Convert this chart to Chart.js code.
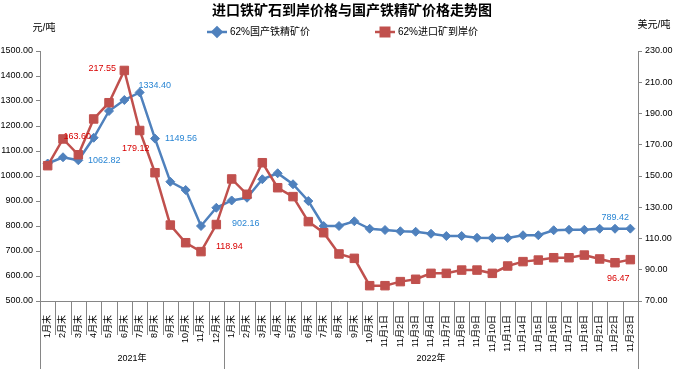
<!DOCTYPE html>
<html>
<head>
<meta charset="utf-8">
<script src="https://cdn.jsdelivr.net/npm/chart.js@4.4.1/dist/chart.umd.min.js"></script>
<style>
  html, body { margin: 0; padding: 0; background: #fff; }
</style>
</head>
<body>
<canvas id="chart" width="676" height="369"></canvas>
<script>
const categories = [
  '1月末', '2月末', '3月末', '4月末', '5月末', '6月末', '7月末', '8月末', '9月末', '10月末', '11月末', '12月末',
  '1月末', '2月末', '3月末', '4月末', '5月末', '6月末', '7月末', '8月末', '9月末', '10月末',
  '11月1日', '11月2日', '11月3日', '11月4日', '11月7日', '11月8日', '11月9日', '11月10日', '11月11日',
  '11月14日', '11月15日', '11月16日', '11月17日', '11月18日', '11月21日', '11月22日', '11月23日'
];
const yearGroups = ['2021年', '2022年'];
const yearSizes = [12, 27];

// 62%国产铁精矿价 (元/吨, 左轴)
const domesticPrice = [
  1050, 1075, 1062.82, 1153, 1260, 1304, 1334.40, 1149.56, 977, 944, 800, 873,
  902.16, 913, 987, 1011, 967, 900, 800, 800, 819, 789,
  784, 779, 777, 769, 760, 760, 753, 752, 752,
  763, 763, 783, 785, 785, 789, 789, 789.42
];
// 62%进口矿到岸价 (美元/吨, 右轴)
const importPrice = [
  156.6, 173.7, 163.60, 186.5, 196.9, 217.55, 179.12, 152.1, 118.6, 107.3, 101.6, 118.94,
  148.1, 138.3, 158.5, 142.5, 136.8, 120.8, 113.7, 100.1, 97.3, 79.8,
  79.8, 82.4, 83.9, 87.7, 87.7, 89.8, 89.8, 87.7, 92.4,
  95.2, 96.2, 97.7, 97.7, 99.4, 96.9, 94.5, 96.47
];

const leftTicks = { min: 500, max: 1500, step: 100 };
const rightTicks = { min: 70, max: 230, step: 20 };

const BLUE = '#4F81BD';
const RED = '#C0504D';
const FONT = "'Liberation Sans', 'Noto Sans CJK SC', sans-serif";

// which points carry a value label, and where the text sits relative to the point
const valueLabels = [
  { ds: 0, i: 2, dx: 26, dy: 0 },
  { ds: 0, i: 6, dx: 15, dy: -7 },
  { ds: 0, i: 7, dx: 26, dy: 0 },
  { ds: 0, i: 12, dx: 14, dy: 23 },
  { ds: 0, i: 38, dx: -15, dy: -11 },
  { ds: 1, i: 5, dx: -22, dy: -2 },
  { ds: 1, i: 2, dx: -1, dy: -18 },
  { ds: 1, i: 6, dx: -4, dy: 18 },
  { ds: 1, i: 11, dx: 13, dy: 22 },
  { ds: 1, i: 38, dx: -12, dy: 19 }
];
const labelColors = ['#2A86D4', '#D80000'];

const decorPlugin = {
  id: 'decor',
  afterDraw(chart) {
    const ctx = chart.ctx;
    const area = chart.chartArea;
    const xs = chart.scales.x;
    ctx.save();

    // title
    ctx.fillStyle = '#000';
    ctx.font = "bold 14px 'Noto Sans CJK SC', sans-serif";
    ctx.textAlign = 'center';
    ctx.textBaseline = 'middle';
    ctx.fillText('进口铁矿石到岸价格与国产铁精矿价格走势图', 352, 10);

    // axis units
    ctx.font = "10px " + FONT;
    ctx.fillText('元/吨', 44, 28);
    ctx.fillText('美元/吨', 654, 25);

    // legend
    const legendItems = [
      { x: 207, text: '62%国产铁精矿价', color: BLUE, style: 'rectRot', r: 4.5 },
      { x: 375, text: '62%进口矿到岸价', color: RED, style: 'rect', r: 6 }
    ];
    legendItems.forEach(item => {
      ctx.strokeStyle = item.color;
      ctx.lineWidth = 2.5;
      ctx.beginPath();
      ctx.moveTo(item.x, 32);
      ctx.lineTo(item.x + 20, 32);
      ctx.stroke();
      ctx.fillStyle = item.color;
      Chart.helpers.drawPoint(ctx, { pointStyle: item.style, radius: item.r, borderWidth: 1 }, item.x + 10, 32);
      ctx.fillStyle = '#000';
      ctx.textAlign = 'left';
      ctx.font = "10px " + FONT;
      ctx.fillText(item.text, item.x + 23, 32);
    });

    // category separators and year groups under the x axis
    ctx.strokeStyle = '#868686';
    ctx.lineWidth = 1;
    const boundary = k => {
      if (k <= 0) return area.left;
      if (k >= categories.length) return area.right;
      return (xs.getPixelForValue(k - 1) + xs.getPixelForValue(k)) / 2;
    };
    const groupEdges = [0];
    yearSizes.forEach(n => groupEdges.push(groupEdges[groupEdges.length - 1] + n));
    for (let k = 0; k <= categories.length; k++) {
      const x = Math.round(boundary(k)) + 0.5;
      const long = groupEdges.includes(k);
      ctx.beginPath();
      ctx.moveTo(x, area.bottom);
      ctx.lineTo(x, long ? chart.height : area.bottom + 34);
      ctx.stroke();
    }
    ctx.fillStyle = '#000';
    ctx.font = "9px " + FONT;
    ctx.textAlign = 'center';
    yearGroups.forEach((g, j) => {
      const cx = (boundary(groupEdges[j]) + boundary(groupEdges[j + 1])) / 2;
      ctx.fillText(g, cx, 359);
    });

    // value labels
    ctx.font = "9px " + FONT;
    valueLabels.forEach(l => {
      const el = chart.getDatasetMeta(l.ds).data[l.i];
      const v = chart.data.datasets[l.ds].data[l.i];
      ctx.fillStyle = labelColors[l.ds];
      ctx.fillText(v.toFixed(2), el.x + l.dx, el.y + l.dy);
    });

    ctx.restore();
  }
};

const axisColor = '#868686';

new Chart(document.getElementById('chart'), {
  type: 'line',
  data: {
    labels: categories,
    datasets: [
      {
        label: '62%国产铁精矿价',
        data: domesticPrice,
        yAxisID: 'y',
        borderColor: BLUE,
        backgroundColor: BLUE,
        borderWidth: 2.5,
        pointStyle: 'rectRot',
        pointRadius: 4.5,
        pointBorderWidth: 1,
        tension: 0,
        order: 2
      },
      {
        label: '62%进口矿到岸价',
        data: importPrice,
        yAxisID: 'y1',
        borderColor: RED,
        backgroundColor: RED,
        borderWidth: 2.5,
        pointStyle: 'rect',
        pointRadius: 6,
        pointBorderWidth: 1,
        tension: 0,
        order: 1
      }
    ]
  },
  options: {
    responsive: false,
    animation: false,
    layout: { padding: { top: 51, left: 0, right: 0, bottom: 0 } },
    plugins: {
      legend: { display: false },
      title: { display: false },
      tooltip: { enabled: false }
    },
    scales: {
      x: {
        offset: true,
        grid: { display: false },
        border: { display: true, color: axisColor },
        ticks: {
          autoSkip: false,
          minRotation: 90,
          maxRotation: 90,
          padding: 6,
          color: '#000',
          font: { size: 9, family: FONT }
        },
        afterFit: s => { s.height = 68; }
      },
      y: {
        position: 'left',
        min: leftTicks.min,
        max: leftTicks.max,
        grid: { drawOnChartArea: false, tickLength: 4, color: axisColor },
        border: { color: axisColor },
        ticks: {
          stepSize: leftTicks.step,
          padding: 3,
          color: '#000',
          font: { size: 9, family: FONT },
          callback: v => v.toFixed(2)
        },
        afterFit: s => { s.width = 40; }
      },
      y1: {
        position: 'right',
        min: rightTicks.min,
        max: rightTicks.max,
        grid: { drawOnChartArea: false, tickLength: 4, color: axisColor },
        border: { color: axisColor },
        ticks: {
          stepSize: rightTicks.step,
          padding: 3,
          color: '#000',
          font: { size: 9, family: FONT },
          callback: v => v.toFixed(2)
        },
        afterFit: s => { s.width = 38; }
      }
    }
  },
  plugins: [decorPlugin]
});
</script>
</body>
</html>
